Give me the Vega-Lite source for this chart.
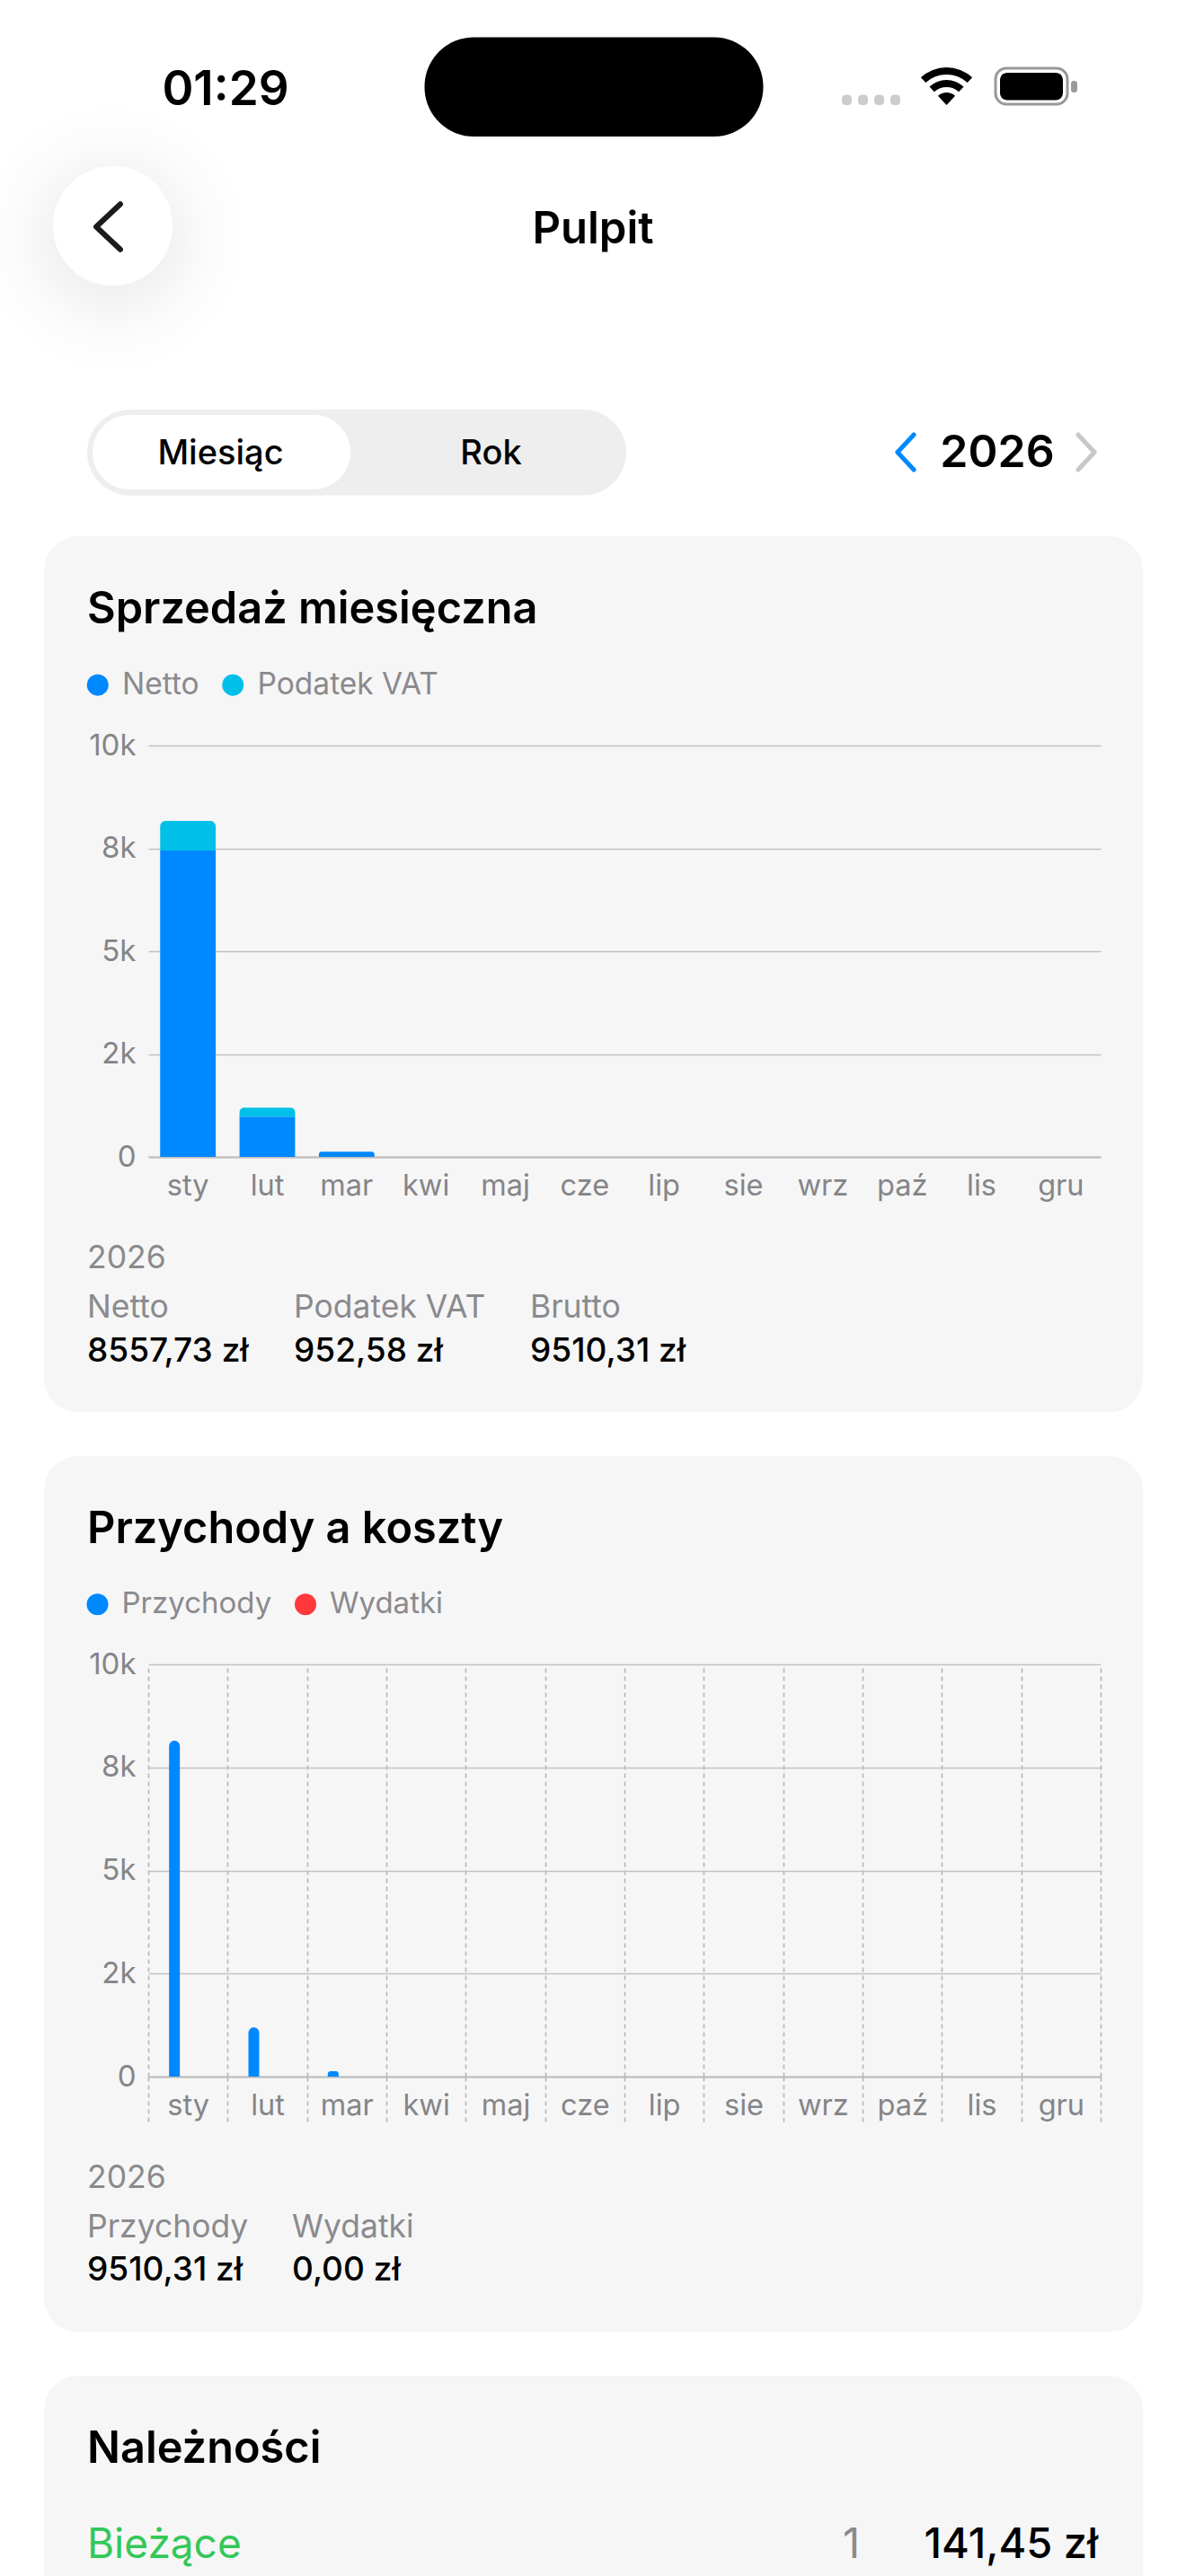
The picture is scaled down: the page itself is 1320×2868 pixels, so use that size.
{
  "$schema": "https://vega.github.io/schema/vega-lite/v6.json",
  "width": 1320,
  "height": 2868,
  "padding": 0,
  "autosize": {"type": "none"},
  "background": "#ffffff",
  "data": {"values": [{}]},
  "datasets": {
    "sprzedaz": [
      {"month": "sty", "series": "Netto", "value": 7447},
      {"month": "sty", "series": "Podatek VAT", "value": 720},
      {"month": "lut", "series": "Netto", "value": 975},
      {"month": "lut", "series": "Podatek VAT", "value": 222},
      {"month": "mar", "series": "Netto", "value": 127},
      {"month": "kwi", "series": "Netto", "value": 0},
      {"month": "maj", "series": "Netto", "value": 0},
      {"month": "cze", "series": "Netto", "value": 0},
      {"month": "lip", "series": "Netto", "value": 0},
      {"month": "sie", "series": "Netto", "value": 0},
      {"month": "wrz", "series": "Netto", "value": 0},
      {"month": "paź", "series": "Netto", "value": 0},
      {"month": "lis", "series": "Netto", "value": 0},
      {"month": "gru", "series": "Netto", "value": 0}
    ],
    "koszty": [
      {"month": "sty", "series": "Przychody", "value": 8150},
      {"month": "lut", "series": "Przychody", "value": 1193},
      {"month": "mar", "series": "Przychody", "value": 130},
      {"month": "kwi", "series": "Przychody", "value": 0},
      {"month": "maj", "series": "Przychody", "value": 0},
      {"month": "cze", "series": "Przychody", "value": 0},
      {"month": "lip", "series": "Przychody", "value": 0},
      {"month": "sie", "series": "Przychody", "value": 0},
      {"month": "wrz", "series": "Przychody", "value": 0},
      {"month": "paź", "series": "Przychody", "value": 0},
      {"month": "lis", "series": "Przychody", "value": 0},
      {"month": "gru", "series": "Przychody", "value": 0},
      {"month": "sty", "series": "Wydatki", "value": 0},
      {"month": "lut", "series": "Wydatki", "value": 0},
      {"month": "mar", "series": "Wydatki", "value": 0},
      {"month": "kwi", "series": "Wydatki", "value": 0},
      {"month": "maj", "series": "Wydatki", "value": 0},
      {"month": "cze", "series": "Wydatki", "value": 0},
      {"month": "lip", "series": "Wydatki", "value": 0},
      {"month": "sie", "series": "Wydatki", "value": 0},
      {"month": "wrz", "series": "Wydatki", "value": 0},
      {"month": "paź", "series": "Wydatki", "value": 0},
      {"month": "lis", "series": "Wydatki", "value": 0},
      {"month": "gru", "series": "Wydatki", "value": 0}
    ]
  },
  "layer": [
    {"mark": {"type": "rect", "x": -25, "y": 115, "x2": 275, "y2": 415, "fill": {"gradient": "radial", "x1": 0.5, "y1": 0.5, "x2": 0.5, "y2": 0.5, "r1": 0, "r2": 0.5, "stops": [{"offset": 0.4, "color": "rgba(0,0,0,0.05)"}, {"offset": 0.7, "color": "rgba(0,0,0,0.015)"}, {"offset": 1, "color": "rgba(0,0,0,0)"}]}}},
    {"mark": {"type": "rect", "x": 59, "y": 185, "x2": 192, "y2": 318, "cornerRadius": 66, "fill": "#ffffff"}},
    {"mark": {"type": "point", "shape": "M0.48,-0.9L-0.48,0L0.48,0.9", "x": 120.5, "y": 252.5, "size": 3136, "filled": false, "fill": null, "stroke": "#1c1c1e", "strokeWidth": 6, "strokeCap": "round", "strokeJoin": "round", "opacity": 1}},

    {"mark": {"type": "rect", "x": 472.5, "y": 41.5, "x2": 849.5, "y2": 152, "cornerRadius": 55, "fill": "#000000"}},
    {"mark": {"type": "text", "style": "clock", "text": "01:29", "x": 251, "y": 116.5, "align": "center"}},
    {"mark": {"type": "rect", "x": 937, "y": 105.5, "x2": 948, "y2": 117, "cornerRadius": 4, "fill": "#cccccc"}},
    {"mark": {"type": "rect", "x": 955, "y": 105.5, "x2": 966, "y2": 117, "cornerRadius": 4, "fill": "#cccccc"}},
    {"mark": {"type": "rect", "x": 973, "y": 105.5, "x2": 984, "y2": 117, "cornerRadius": 4, "fill": "#cccccc"}},
    {"mark": {"type": "rect", "x": 991, "y": 105.5, "x2": 1002, "y2": 117, "cornerRadius": 4, "fill": "#cccccc"}},
    {"mark": {"type": "arc", "x": 1053.5, "y": 117, "radius": 42, "radius2": 34, "theta": -0.75, "theta2": 0.75, "fill": "#000000"}},
    {"mark": {"type": "arc", "x": 1053.5, "y": 117, "radius": 28, "radius2": 20, "theta": -0.75, "theta2": 0.75, "fill": "#000000"}},
    {"mark": {"type": "arc", "x": 1053.5, "y": 117, "radius": 14, "radius2": 0, "theta": -0.75, "theta2": 0.75, "fill": "#000000"}},
    {"mark": {"type": "rect", "x": 1108, "y": 76, "x2": 1188, "y2": 116, "cornerRadius": 12, "fill": "#ffffff", "stroke": "#999999", "strokeWidth": 3}},
    {"mark": {"type": "rect", "x": 1113, "y": 81, "x2": 1183, "y2": 111.5, "cornerRadius": 8, "fill": "#000000"}},
    {"mark": {"type": "rect", "x": 1192, "y": 90, "x2": 1199, "y2": 103, "cornerRadius": 3, "fill": "#999999"}},

    {"mark": {"type": "text", "style": "heading", "text": "Pulpit", "x": 660, "y": 270.5, "align": "center"}},

    {"mark": {"type": "rect", "x": 97, "y": 456, "x2": 697, "y2": 551.5, "cornerRadius": 48, "fill": "#eeeeee"}},
    {"mark": {"type": "rect", "x": 103, "y": 462, "x2": 390, "y2": 545, "cornerRadius": 42, "fill": "#ffffff"}},
    {"mark": {"type": "text", "style": "segment", "text": "Miesiąc", "x": 245.5, "y": 517, "align": "center"}},
    {"mark": {"type": "text", "style": "segment", "text": "Rok", "x": 546.5, "y": 517, "align": "center"}},
    {"mark": {"type": "point", "shape": "M0.42,-0.9L-0.42,0L0.42,0.9", "x": 1008, "y": 503.5, "size": 1878, "filled": false, "fill": null, "stroke": "#0088ff", "strokeWidth": 5, "strokeCap": "round", "strokeJoin": "round", "opacity": 1}},
    {"mark": {"type": "text", "style": "heading", "text": "2026", "x": 1110, "y": 520, "align": "center", "fontSize": 50}},
    {"mark": {"type": "point", "shape": "M-0.42,-0.9L0.42,0L-0.42,0.9", "x": 1209, "y": 503.5, "size": 1878, "filled": false, "fill": null, "stroke": "#c7c7cc", "strokeWidth": 5, "strokeCap": "round", "strokeJoin": "round", "opacity": 1}},

    {"mark": {"type": "rect", "x": 49, "y": 597, "x2": 1272, "y2": 1572.5, "cornerRadius": 38, "fill": "#000000", "fillOpacity": 0.037}},
    {"mark": {"type": "rect", "x": 49, "y": 1621, "x2": 1272, "y2": 2596.5, "cornerRadius": 38, "fill": "#000000", "fillOpacity": 0.037}},
    {"mark": {"type": "rect", "x": 49, "y": 2645, "x2": 1272, "y2": 2920, "cornerRadius": 38, "fill": "#000000", "fillOpacity": 0.037}},

    {"mark": {"type": "text", "style": "cardTitle", "text": "Sprzedaż miesięczna", "x": 97, "y": 693.5}},
    {
      "data": {"name": "sprzedaz"},
      "transform": [
        {"stack": "value", "groupby": ["month"], "sort": [{"field": "series", "order": "ascending"}], "as": ["v0", "v1"]}
      ],
      "encoding": {
        "x": {
          "field": "month", "type": "nominal", "sort": null,
          "scale": {"domain": ["sty", "lut", "mar", "kwi", "maj", "cze", "lip", "sie", "wrz", "paź", "lis", "gru"], "range": [165, 1225], "paddingInner": 0.3, "paddingOuter": 0.15},
          "axis": {"title": null, "orient": "bottom", "offset": -1580, "labelAngle": 0, "ticks": false, "labelPadding": 42, "labelBaseline": "alphabetic", "labelFont": "Inter", "labelFontSize": 32.5, "labelColor": "#8a8a8e", "domainColor": "#c4c4c4", "domainWidth": 2, "grid": false}
        },
        "y": {
          "field": "v1", "type": "quantitative",
          "scale": {"domain": [0, 10000], "range": [1288, 830], "nice": false},
          "axis": {"title": null, "orient": "left", "offset": -165, "values": [0, 2500, 5000, 7500, 10000], "labelExpr": "datum.value == 0 ? '0' : datum.value == 2500 ? '2k' : round(datum.value / 1000) + 'k'", "ticks": false, "domain": false, "labelPadding": 14, "labelFont": "Inter", "labelFontSize": 33, "labelColor": "#8a8a8e", "grid": true, "gridColor": "#cacaca", "gridWidth": 1.6}
        },
        "y2": {"field": "v0"},
        "color": {
          "field": "series", "type": "nominal",
          "scale": {"domain": ["Netto", "Podatek VAT"], "range": ["#0088ff", "#00c0e8"]},
          "legend": {"title": null, "orient": "none", "legendX": 92, "legendY": 745.5, "padding": 0, "direction": "horizontal", "columns": 2, "symbolType": "circle", "symbolSize": 576, "symbolStrokeWidth": 0, "labelFont": "Inter", "labelFontSize": 33.5, "labelColor": "#8a8a8e", "labelLimit": 400, "labelOffset": 10.5, "columnPadding": 20.5}
        }
      },
      "layer": [
        {"transform": [{"filter": "datum.series == 'Netto' && datum.month != 'mar'"}], "mark": {"type": "bar"}},
        {"transform": [{"filter": "datum.series == 'Podatek VAT' || datum.month == 'mar'"}], "mark": {"type": "bar", "cornerRadiusTopLeft": 6, "cornerRadiusTopRight": 6}}
      ]
    },
    {"mark": {"type": "text", "style": "muted", "fill": "#8a8a8e", "text": "2026", "x": 97, "y": 1411.5}},
    {"mark": {"type": "text", "style": "muted", "fill": "#8a8a8e", "text": "Netto", "x": 97, "y": 1466.5}},
    {"mark": {"type": "text", "style": "amount", "text": "8557,73 zł", "x": 97, "y": 1516}},
    {"mark": {"type": "text", "style": "muted", "fill": "#8a8a8e", "text": "Podatek VAT", "x": 327, "y": 1466.5}},
    {"mark": {"type": "text", "style": "amount", "text": "952,58 zł", "x": 327, "y": 1516}},
    {"mark": {"type": "text", "style": "muted", "fill": "#8a8a8e", "text": "Brutto", "x": 590, "y": 1466.5}},
    {"mark": {"type": "text", "style": "amount", "text": "9510,31 zł", "x": 590, "y": 1516}},

    {"mark": {"type": "text", "style": "cardTitle", "text": "Przychody a koszty", "x": 97, "y": 1718}},
    {
      "data": {"name": "koszty"},
      "encoding": {
        "x": {
          "field": "month", "type": "nominal", "sort": null,
          "scale": {"domain": ["sty", "lut", "mar", "kwi", "maj", "cze", "lip", "sie", "wrz", "paź", "lis", "gru"], "range": [165, 1225], "paddingInner": 0, "paddingOuter": 0},
          "axis": {"title": null, "orient": "top", "offset": -2312, "labelAngle": 0, "tickBand": "extent", "tickColor": "#bdbdbd", "tickWidth": 1.6, "tickSize": -52, "tickDash": [5, 4], "labelPadding": 10, "labelBaseline": "alphabetic", "labelFont": "Inter", "labelFontSize": 32.5, "labelColor": "#8a8a8e", "domainColor": "#c4c4c4", "domainWidth": 2, "grid": true, "gridColor": "#bdbdbd", "gridWidth": 1.6, "gridDash": [5, 4]}
        },
        "y": {
          "field": "value", "type": "quantitative", "stack": null,
          "scale": {"domain": [0, 10000], "range": [2312, 1853], "nice": false},
          "axis": {"title": null, "orient": "left", "offset": -165, "values": [0, 2500, 5000, 7500, 10000], "labelExpr": "datum.value == 0 ? '0' : datum.value == 2500 ? '2k' : round(datum.value / 1000) + 'k'", "ticks": false, "domain": false, "labelPadding": 14, "labelFont": "Inter", "labelFontSize": 33, "labelColor": "#8a8a8e", "grid": true, "gridColor": "#cacaca", "gridWidth": 1.6}
        },
        "color": {
          "field": "series", "type": "nominal",
          "scale": {"domain": ["Przychody", "Wydatki"], "range": ["#0088ff", "#ff383c"]},
          "legend": {"title": null, "orient": "none", "legendX": 92, "legendY": 1769.5, "padding": 0, "direction": "horizontal", "columns": 2, "symbolType": "circle", "symbolSize": 576, "symbolStrokeWidth": 0, "labelFont": "Inter", "labelFontSize": 33, "labelColor": "#8a8a8e", "labelLimit": 400, "labelOffset": 10.5, "columnPadding": 20.5}
        }
      },
      "layer": [
        {"transform": [{"filter": "datum.series == 'Przychody'"}], "mark": {"type": "bar", "width": 12, "xOffset": -15, "cornerRadiusTopLeft": 6, "cornerRadiusTopRight": 6}},
        {"transform": [{"filter": "datum.series == 'Wydatki'"}], "mark": {"type": "bar", "width": 12, "xOffset": 15, "cornerRadiusTopLeft": 6, "cornerRadiusTopRight": 6}}
      ]
    },
    {"mark": {"type": "text", "style": "muted", "fill": "#8a8a8e", "text": "2026", "x": 97, "y": 2436}},
    {"mark": {"type": "text", "style": "muted", "fill": "#8a8a8e", "text": "Przychody", "x": 97, "y": 2490.5}},
    {"mark": {"type": "text", "style": "amount", "text": "9510,31 zł", "x": 97, "y": 2539}},
    {"mark": {"type": "text", "style": "muted", "fill": "#8a8a8e", "text": "Wydatki", "x": 325, "y": 2490.5}},
    {"mark": {"type": "text", "style": "amount", "text": "0,00 zł", "x": 325, "y": 2539}},

    {"mark": {"type": "text", "style": "cardTitle", "text": "Należności", "x": 97, "y": 2741.5}},
    {"mark": {"type": "text", "style": "row", "text": "Bieżące", "x": 97, "y": 2847.5, "fill": "#34c759", "fontWeight": 400, "fontSize": 46}},
    {"mark": {"type": "text", "style": "row", "text": "1", "x": 957, "y": 2847.5, "align": "right", "fill": "#8a8a8e", "fontWeight": 400}},
    {"mark": {"type": "text", "style": "row", "text": "141,45 zł", "x": 1222, "y": 2847.5, "align": "right"}}
  ],
  "resolve": {
    "scale": {"x": "independent", "y": "independent", "color": "independent"},
    "axis": {"x": "independent", "y": "independent"},
    "legend": {"color": "independent"}
  },
  "config": {
    "view": {"stroke": null},
    "font": "Inter",
    "style": {
      "clock": {"font": "Inter", "fontSize": 53, "fontWeight": 600, "fill": "#000000", "baseline": "alphabetic"},
      "heading": {"font": "Inter", "fontSize": 49, "fontWeight": 600, "fill": "#000000", "baseline": "alphabetic"},
      "segment": {"font": "Inter", "fontSize": 38, "fontWeight": 500, "fill": "#000000", "baseline": "alphabetic"},
      "cardTitle": {"font": "Inter", "fontSize": 48.7, "fontWeight": 600, "fill": "#0a0a0a", "align": "left", "baseline": "alphabetic"},
      "muted": {"font": "Inter", "fontSize": 35.5, "fontWeight": 400, "align": "left", "baseline": "alphabetic"},
      "amount": {"font": "Inter", "fontSize": 37, "fontWeight": 500, "fill": "#000000", "align": "left", "baseline": "alphabetic"},
      "row": {"font": "Inter", "fontSize": 47, "fontWeight": 500, "fill": "#000000", "align": "left", "baseline": "alphabetic"}
    }
  }
}
